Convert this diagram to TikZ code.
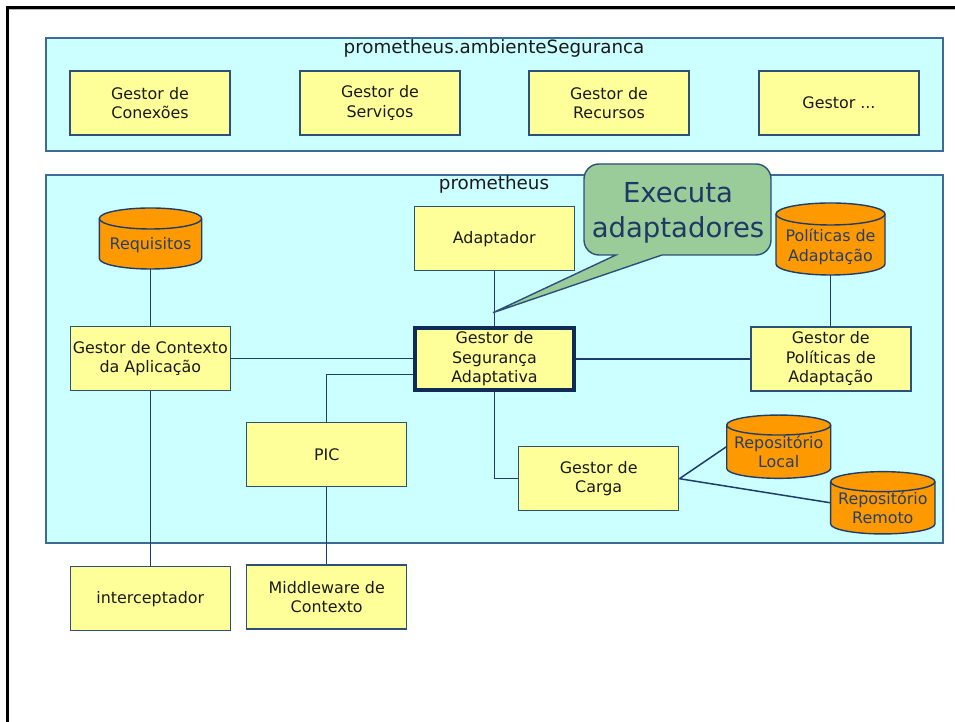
\documentclass[tikz,border=0pt]{standalone}
\usepackage{fontspec}
\setmainfont{DejaVu Sans}
\usetikzlibrary{calc}
\definecolor{cyanf}{HTML}{CCFFFF}
\definecolor{boxy}{HTML}{FFFF99}
\definecolor{orangef}{HTML}{FF9900}
\definecolor{greenf}{HTML}{99CC99}
\definecolor{boxb}{HTML}{2E4F7A}
\definecolor{contb}{HTML}{3D6A96}
\definecolor{linec}{HTML}{1F3D6B}
\definecolor{segb}{HTML}{0E2C57}
\definecolor{navytxt}{HTML}{1F3864}
\definecolor{cyltxt}{HTML}{27406A}
\definecolor{txt}{HTML}{1A1A1A}
\newcommand\boxfont{\fontsize{15.9}{19.5}\selectfont}
\newcommand\titlefont{\fontsize{18.3}{22}\selectfont}
\newcommand\calloutfont{\fontsize{27.5}{34.3}\selectfont}
\tikzset{
  box/.style={draw=boxb, fill=boxy, line width=1.5pt, minimum width=160pt, minimum height=64pt, inner sep=0pt, align=center, font=\boxfont, text=txt},
  segbox/.style={box, draw=segb, line width=4pt, minimum width=159pt, minimum height=62pt},
  cont/.style={draw=contb, fill=cyanf, line width=1.5pt, inner sep=0pt},
  conn/.style={draw=linec, line width=1.5pt},
  cylbody/.style={fill=orangef, draw=linec, line width=1.4pt},
  cylline/.style={draw=linec, line width=1.4pt},
  cylarea/.style={draw=none, inner sep=0pt},
  cyltext/.style={align=center, font=\boxfont, text=cyltxt, inner sep=0pt},
  conttitle/.style={font=\titlefont, text=txt, inner sep=0pt, anchor=base},
  callout/.style={fill=greenf, draw=boxb, line width=1.4pt},
  pics/cyl/.style n args={3}{code={
    \path[cylbody] (-#1/2,#2/2-#3) -- (-#1/2,-#2/2+#3)
      arc[start angle=180,end angle=360,x radius={#1*0.5pt},y radius={#3*1pt}]
      -- (#1/2,#2/2-#3)
      arc[start angle=0,end angle=180,x radius={#1*0.5pt},y radius={#3*1pt}] -- cycle;
    \draw[cylline] (-#1/2,#2/2-#3)
      arc[start angle=180,end angle=360,x radius={#1*0.5pt},y radius={#3*1pt}];
  }}
}
\begin{document}
\begin{tikzpicture}[x=1pt,y=1pt]
\useasboundingbox (0,0) rectangle (955,722);
% outer frame
\draw[gray!55, line width=1pt] (9,712.5) -- (955,712.5);
\draw[black, line width=3pt, line join=miter] (7.5,0) -- (7.5,714.5) -- (955,714.5);

% top container
\node[cont, minimum width=897pt, minimum height=113pt] (amb) at (494.5,627.5) {};
\node[conttitle] (ambtitle) at (494,668) {prometheus.ambienteSeguranca};
\node[box] (conex) at (150,619) {Gestor de\\Conexões};
\node[box] (serv) at (380,619) {Gestor de\\Serviços};
\node[box] (recur) at (609,619) {Gestor de\\Recursos};
\node[box] (outro) at (839,619) {Gestor ...};

% main container
\node[cont, minimum width=897pt, minimum height=368pt] (prom) at (494.5,363) {};
\node[conttitle] (promtitle) at (494,532) {prometheus};

% cylinders
\pic at (150.5,483.5) {cyl={102.4}{61}{10.5}};
\node[cylarea, minimum width=102.4pt, minimum height=61pt] (req) at (150.5,483.5) {};
\node[cyltext, anchor=base] (reqtxt) at (150.5,472) {Requisitos};

\pic at (830.5,483) {cyl={109}{72}{11}};
\node[cylarea, minimum width=109pt, minimum height=72pt] (pol) at (830.5,483) {};
\node[cyltext] (poltxt) at (830.5,475) {Políticas de\\Adaptação};

\pic at (778.7,275.3) {cyl={104}{63.3}{10}};
\node[cylarea, minimum width=104pt, minimum height=63.3pt] (repl) at (778.7,275.3) {};
\node[cyltext] (repltxt) at (778.7,270.2) {Repositório\\Local};

\pic at (882.8,219.2) {cyl={104.3}{62.3}{10}};
\node[cylarea, minimum width=104.3pt, minimum height=62.3pt] (repr) at (882.8,219.2) {};
\node[cyltext] (reprtxt) at (882.8,214.2) {Repositório\\Remoto};

% boxes
\node[box] (adap) at (494.3,483.3) {Adaptador};
\node[box] (ctx) at (150.3,363.3) {Gestor de Contexto\\da Aplicação};
\node[segbox] (seg) at (494.5,363.2) {Gestor de\\Segurança\\Adaptativa};
\node[box] (gpol) at (830.8,363.2) {Gestor de\\Políticas de\\Adaptação};
\node[box] (picbox) at (326.7,267.3) {PIC};
\node[box] (carga) at (598.7,243.3) {Gestor de\\Carga};
\node[box] (inter) at (150.3,123.3) {interceptador};
\node[box] (mid) at (326.7,125) {Middleware de\\Contexto};

% connectors
\draw[conn] (req.south) -- (req.south |- ctx.north);
\draw[conn] (ctx.east) -- (ctx.east -| seg.west);
\draw[conn] ([yshift=-15.5pt]seg.west) -| (picbox.north);
\draw[conn] (adap.south) -- (adap.south |- seg.north);
\draw[conn] (seg.east) -- (seg.east -| gpol.west);
\draw[conn] (pol.south) -- (pol.south |- gpol.north);
\draw[conn] (seg.south) |- (carga.west);
\draw[conn] (ctx.south) -- (ctx.south |- inter.north);
\draw[conn] (picbox.south) -- (picbox.south |- mid.north);
\draw[conn] (carga.east) -- (repl.west);
\draw[conn] (carga.east) -- (repr.west);

% callout
\coordinate (tip) at (493,409.3);
\draw[callout] (599,558) -- (756,558) arc[start angle=90,end angle=0,radius=15pt]
  -- (771,482) arc[start angle=0,end angle=-90,radius=15pt]
  -- (662,467) -- (tip) -- (616,467)
  -- (599,467) arc[start angle=270,end angle=180,radius=15pt]
  -- (584,543) arc[start angle=180,end angle=90,radius=15pt] -- cycle;
\node[font=\calloutfont, text=navytxt, align=center, inner sep=0pt] (callouttxt) at (678,509.3) {Executa\\adaptadores};
\end{tikzpicture}
\end{document}
